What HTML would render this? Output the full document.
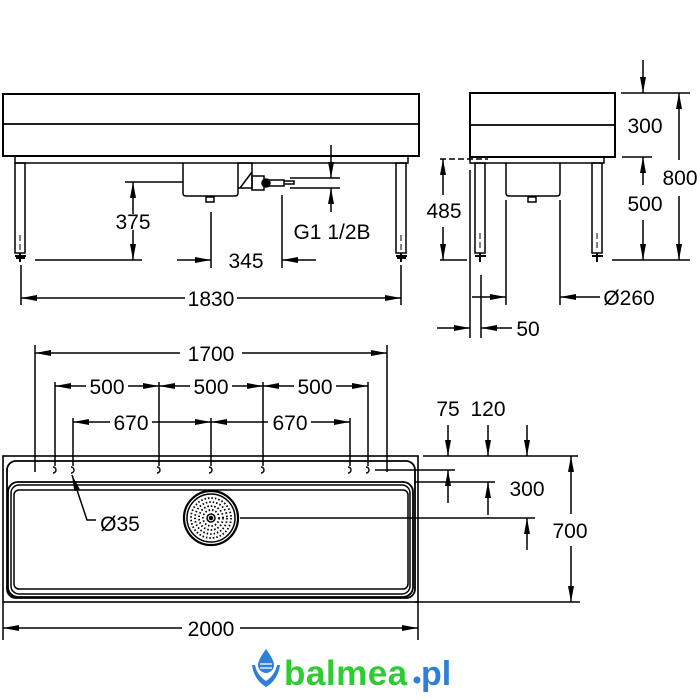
<!DOCTYPE html>
<html><head><meta charset="utf-8"><style>
html,body{margin:0;padding:0;background:#fff;}
svg{display:block}
text{font-family:"Liberation Sans",Arial,sans-serif;font-size:21px;fill:#000}
</style></head><body>
<svg width="700" height="700" viewBox="0 0 700 700" xmlns="http://www.w3.org/2000/svg">
<defs>
<marker id="a" viewBox="0 0 16 6" refX="16" refY="3" markerWidth="16" markerHeight="6" markerUnits="userSpaceOnUse" orient="auto"><path d="M0,0 L16,3 L0,6 z" fill="#000"/></marker>
</defs>
<g stroke="#000" stroke-width="1.5" fill="none">
<!-- FRONT VIEW -->
<rect x="3" y="94" width="416" height="62" stroke-width="2"/>
<line x1="3" y1="124" x2="419" y2="124" stroke-width="1.8"/>
<rect x="15" y="156" width="393" height="7"/>
<rect x="15" y="163" width="10" height="90"/>
<rect x="396" y="163" width="10" height="90"/>
<path d="M20,235 v6 M20,244 v6 M401,235 v6 M401,244 v6" stroke-width="1"/>
<path d="M15,256 h11 M16,258 h9 M396,256 h11 M397,258 h9" stroke-width="2"/>
<line x1="20" y1="253" x2="20" y2="262" stroke-width="2"/>
<line x1="401" y1="253" x2="401" y2="262" stroke-width="2"/>
<path d="M183,163 v30 q0,3 3,3 h49 q3,0 3,-3 v-30"/>
<rect x="206" y="197" width="8" height="5"/>
<path d="M238,163 h14 v25 h-14 M240,188 l12,-16"/>
<rect x="252" y="176" width="12" height="14"/>
<circle cx="266" cy="183" r="4" fill="#000"/>
<path d="M264,180 h20 v6 h-20 M284,181 h10 v3 h-10"/>
<!-- 375 -->
<line x1="125" y1="182" x2="183" y2="182"/>
<line x1="35" y1="260" x2="142" y2="260"/>
<line x1="133" y1="214" x2="133" y2="182" marker-end="url(#a)"/>
<line x1="133" y1="230" x2="133" y2="260" marker-end="url(#a)"/>
<!-- 345 -->
<line x1="211" y1="212" x2="211" y2="268"/>
<line x1="282" y1="195" x2="282" y2="268"/>
<line x1="177" y1="260" x2="211" y2="260" marker-end="url(#a)"/>
<line x1="316" y1="260" x2="282" y2="260" marker-end="url(#a)"/>
<!-- G1 -->
<line x1="290" y1="178" x2="340" y2="178"/>
<line x1="290" y1="188" x2="340" y2="188"/>
<line x1="331" y1="145" x2="331" y2="178" marker-end="url(#a)"/>
<line x1="331" y1="212" x2="331" y2="188" marker-end="url(#a)"/>
<!-- 1830 -->
<line x1="21" y1="265" x2="21" y2="305"/>
<line x1="401" y1="265" x2="401" y2="305"/>
<line x1="185" y1="298" x2="21" y2="298" marker-end="url(#a)"/>
<line x1="237" y1="298" x2="401" y2="298" marker-end="url(#a)"/>

<!-- SIDE VIEW -->
<rect x="470" y="93" width="145" height="64" stroke-width="2"/>
<line x1="470" y1="125" x2="615" y2="125" stroke-width="1.8"/>
<rect x="470" y="157" width="134" height="6"/>
<rect x="475" y="163" width="10" height="90"/>
<rect x="592" y="163" width="10" height="90"/>
<path d="M480,233 v6 M480,242 v6 M597,233 v6 M597,242 v6" stroke-width="1"/>
<path d="M475,256 h11 M592,256 h11" stroke-width="2"/>
<line x1="480" y1="253" x2="480" y2="262" stroke-width="2"/>
<line x1="597" y1="253" x2="597" y2="262" stroke-width="2"/>
<path d="M506,163 v30 q0,3 3,3 h48 q3,0 3,-3 v-30"/>
<rect x="528" y="197" width="8" height="5"/>
<!-- 800/300/500 -->
<line x1="621" y1="93" x2="690" y2="93"/>
<line x1="622" y1="157" x2="652" y2="157"/>
<line x1="612" y1="260" x2="690" y2="260"/>
<line x1="679" y1="160" x2="679" y2="93" marker-end="url(#a)"/>
<line x1="679" y1="196" x2="679" y2="260" marker-end="url(#a)"/>
<line x1="643" y1="60" x2="643" y2="93" marker-end="url(#a)"/>
<line x1="643" y1="185" x2="643" y2="157" marker-end="url(#a)"/>
<line x1="643" y1="220" x2="643" y2="260" marker-end="url(#a)"/>
<!-- 485 -->
<line x1="440" y1="159" x2="488" y2="159" stroke-dasharray="6,3"/>
<line x1="440" y1="260" x2="467" y2="260"/>
<line x1="443" y1="195" x2="443" y2="159" marker-end="url(#a)"/>
<line x1="443" y1="227" x2="443" y2="260" marker-end="url(#a)"/>
<!-- bottom side dims -->
<line x1="470" y1="170" x2="470" y2="338"/>
<line x1="481" y1="275" x2="481" y2="338"/>
<line x1="506" y1="200" x2="506" y2="305"/>
<line x1="560" y1="200" x2="560" y2="305"/>
<line x1="472" y1="297" x2="506" y2="297" marker-end="url(#a)"/>
<line x1="600" y1="297" x2="560" y2="297" marker-end="url(#a)"/>
<line x1="437" y1="328" x2="470" y2="328" marker-end="url(#a)"/>
<line x1="512" y1="328" x2="481" y2="328" marker-end="url(#a)"/>

<!-- PLAN VIEW -->
<rect x="3" y="456" width="415" height="146" stroke-width="1.6"/>
<rect x="7" y="461" width="408" height="137" rx="9" stroke-width="1.8"/>
<rect x="8" y="482" width="405" height="115" rx="10" stroke-width="1.8"/>
<rect x="11" y="485" width="399" height="109" rx="8"/>
<rect x="14" y="490" width="394" height="99" rx="5"/>
<g stroke-width="1.4">
<path d="M53,467 a3,3 0 1 1 0,6"/><path d="M71,467 a3,3 0 1 1 0,6"/>
<path d="M157,467 a3,3 0 1 1 0,6"/><path d="M209,467 a3,3 0 1 1 0,6"/>
<path d="M261,467 a3,3 0 1 1 0,6"/><path d="M348,467 a3,3 0 1 1 0,6"/>
<path d="M366,467 a3,3 0 1 1 0,6"/>
</g>
<!-- drain -->
<circle cx="211" cy="518" r="27" stroke-width="2.2"/>
<circle cx="211" cy="518" r="24"/>
<g stroke-dasharray="1.5,2" stroke-width="1.8">
<circle cx="211" cy="518" r="20"/><circle cx="211" cy="518" r="16"/>
<circle cx="211" cy="518" r="12"/><circle cx="211" cy="518" r="8"/>
</g>
<circle cx="211" cy="518" r="4"/>
<circle cx="211" cy="518" r="1.5" fill="#000"/>
<!-- Ø35 leader -->
<line x1="82" y1="505" x2="72" y2="475" marker-end="url(#a)"/>
<path d="M82,505 l5,15 h9"/>
<!-- 1700 -->
<line x1="35" y1="345" x2="35" y2="472"/>
<line x1="387" y1="345" x2="387" y2="472"/>
<line x1="180" y1="353" x2="35" y2="353" marker-end="url(#a)"/>
<line x1="242" y1="353" x2="387" y2="353" marker-end="url(#a)"/>
<!-- 500 ext -->
<line x1="55" y1="382" x2="55" y2="466"/>
<line x1="159" y1="382" x2="159" y2="466"/>
<line x1="263" y1="382" x2="263" y2="466"/>
<line x1="368" y1="382" x2="368" y2="466"/>
<line x1="86" y1="386" x2="55" y2="386" marker-end="url(#a)"/>
<line x1="128" y1="386" x2="159" y2="386" marker-end="url(#a)"/>
<line x1="190" y1="386" x2="159" y2="386" marker-end="url(#a)"/>
<line x1="232" y1="386" x2="263" y2="386" marker-end="url(#a)"/>
<line x1="294" y1="386" x2="263" y2="386" marker-end="url(#a)"/>
<line x1="336" y1="386" x2="368" y2="386" marker-end="url(#a)"/>
<!-- 670 -->
<line x1="73" y1="418" x2="73" y2="466"/>
<line x1="211" y1="418" x2="211" y2="466"/>
<line x1="350" y1="418" x2="350" y2="466"/>
<line x1="110" y1="422" x2="73" y2="422" marker-end="url(#a)"/>
<line x1="152" y1="422" x2="211" y2="422" marker-end="url(#a)"/>
<line x1="268" y1="422" x2="211" y2="422" marker-end="url(#a)"/>
<line x1="311" y1="422" x2="350" y2="422" marker-end="url(#a)"/>
<!-- right dims -->
<line x1="423" y1="456" x2="578" y2="456"/>
<line x1="375" y1="470" x2="455" y2="470"/>
<line x1="415" y1="482" x2="495" y2="482"/>
<line x1="240" y1="518" x2="535" y2="518"/>
<line x1="415" y1="602" x2="580" y2="602"/>
<line x1="448" y1="425" x2="448" y2="456" marker-end="url(#a)"/>
<line x1="488" y1="425" x2="488" y2="456" marker-end="url(#a)"/>
<line x1="527" y1="425" x2="527" y2="456" marker-end="url(#a)"/>
<line x1="448" y1="503" x2="448" y2="470" marker-end="url(#a)"/>
<line x1="488" y1="515" x2="488" y2="482" marker-end="url(#a)"/>
<line x1="527" y1="550" x2="527" y2="518" marker-end="url(#a)"/>
<line x1="571" y1="514" x2="571" y2="456" marker-end="url(#a)"/>
<line x1="571" y1="546" x2="571" y2="602" marker-end="url(#a)"/>
<!-- 2000 -->
<line x1="3" y1="602" x2="3" y2="640"/>
<line x1="418" y1="602" x2="418" y2="640"/>
<line x1="182" y1="628" x2="3" y2="628" marker-end="url(#a)"/>
<line x1="240" y1="628" x2="418" y2="628" marker-end="url(#a)"/>
</g>
<g text-anchor="middle">
<text x="133" y="229">375</text>
<text x="246" y="268">345</text>
<text x="332" y="239">G1 1/2B</text>
<text x="211" y="306">1830</text>
<text x="645" y="133">300</text>
<text x="645" y="211">500</text>
<text x="680" y="185">800</text>
<text x="444" y="218">485</text>
<text x="629" y="305">Ø260</text>
<text x="528" y="336">50</text>
<text x="211" y="361">1700</text>
<text x="107" y="394">500</text>
<text x="211" y="394">500</text>
<text x="315" y="394">500</text>
<text x="131" y="430">670</text>
<text x="290" y="430">670</text>
<text x="448" y="416">75</text>
<text x="488" y="416">120</text>
<text x="527" y="496">300</text>
<text x="570" y="538">700</text>
<text x="120" y="531">Ø35</text>
<text x="211" y="636">2000</text>
</g>
<!-- logo -->
<g>
<path d="M266,649 q-8,11 -8,16 a8,8 0 0 0 16,0 q0,-5 -8,-16z" fill="#2f7fd6"/>
<path d="M252,665 q2,15 14,22 q12,-7 14,-22 l-3,0 q-2,10 -11,16 q-9,-6 -11,-16z" fill="#2f7fd6"/>
<path d="M260,664 h12 M260,668 h12" stroke="#fff" stroke-width="1.3"/>
</g>
<text x="284" y="685" style="font-size:35px;font-weight:bold;fill:#2ecc32;letter-spacing:0.5px">balmea</text>
<circle cx="417" cy="680" r="3.5" fill="#2f7fd6"/>
<text x="421" y="685" style="font-size:34px;font-weight:bold;fill:#2f7fd6">pl</text>
</svg>
</body></html>
